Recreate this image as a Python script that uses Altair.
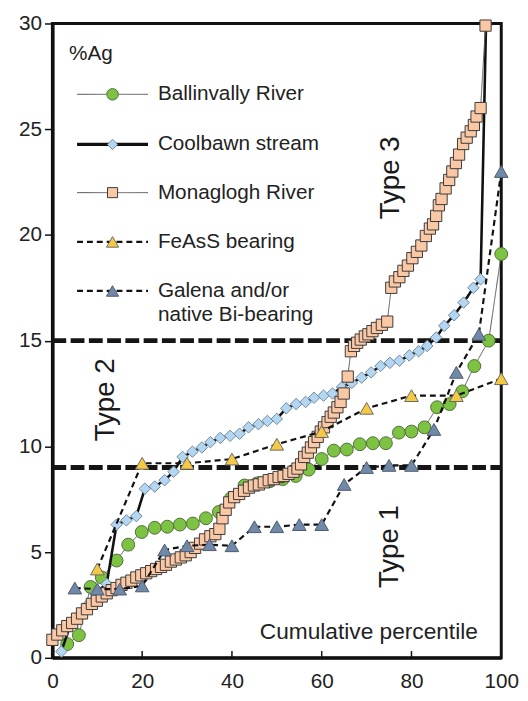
import altair as alt
import pandas as pd

# ---------------- data ----------------
ball_x = [3.3, 5.9, 8.5, 11.0, 14.3, 16.9, 19.9, 22.8, 25.6, 28.4, 31.3, 34.2, 37.1, 39.8,
          42.8, 45.6, 48.4, 51.3, 54.2, 57.1, 60.0, 62.7, 65.6, 68.5, 71.4, 74.3, 77.2, 80.0,
          82.9, 85.7, 88.5, 91.3, 94.0, 97.2, 100.0]
ball_y = [0.65, 1.07, 3.35, 3.8, 4.6, 5.35, 5.95, 6.15, 6.2, 6.3, 6.35, 6.6, 6.9, 7.55,
          8.15, 8.25, 8.35, 8.45, 8.6, 8.9, 9.4, 9.8, 9.85, 10.1, 10.15, 10.15, 10.65, 10.7,
          10.9, 11.85, 12.0, 12.6, 13.8, 15.0, 19.1]

cool_x = [2.0, 3.9, 5.9, 7.8, 9.7, 12.1, 14.3, 16.5, 18.7, 20.6, 22.8, 25.0, 27.0, 29.0,
          31.2, 33.3, 35.2, 37.4, 39.6, 41.7, 43.7, 45.9, 47.9, 50.0, 52.1, 54.3, 56.4, 58.3,
          60.4, 62.4, 64.5, 66.7, 68.9, 71.0, 73.1, 75.2, 77.3, 79.5, 81.6, 83.5, 85.5, 87.3,
          89.5, 91.6, 93.8, 95.4, 96.6]
cool_y = [0.3, 1.5, 2.0, 2.5, 3.1, 3.5, 6.3, 6.5, 6.7, 8.0, 8.1, 8.4, 8.8, 9.5,
          9.75, 9.95, 10.2, 10.4, 10.5, 10.6, 10.9, 11.05, 11.2, 11.3, 11.8, 12.0, 12.1, 12.3,
          12.4, 12.5, 12.8, 13.0, 13.25, 13.5, 13.8, 13.95, 14.05, 14.3, 14.5, 14.75, 15.15, 15.7,
          16.2, 16.8, 17.5, 17.9, 29.9]

mona_x = [0.0, 1.1, 2.2, 3.3, 4.4, 5.5, 6.6, 7.7, 8.8, 9.9, 11.0, 12.1, 13.2, 14.3, 15.4,
          16.5, 17.6, 18.7, 19.8, 20.9, 22.0, 23.1, 24.2, 25.3, 26.4, 27.5, 28.6, 29.7, 30.8,
          31.8, 32.9, 34.0, 35.2, 36.3, 37.2, 37.9, 38.6, 39.4, 40.5, 41.6, 42.7, 43.8, 44.9,
          46.0, 47.1, 48.2, 49.3, 50.4, 51.5, 52.6, 53.7, 54.6, 55.4, 56.1, 56.9, 57.6, 58.3,
          59.1, 59.8, 60.5, 61.3, 62.0, 62.7, 63.5, 64.2, 64.9, 65.8, 66.5, 67.2, 67.9, 68.7,
          69.6, 70.4, 71.3, 72.3, 73.4, 74.6, 75.5, 76.3, 77.3, 78.2, 79.2, 80.2, 81.2, 82.2,
          83.2, 84.1, 84.8, 85.5, 86.1, 86.7, 87.6, 88.4, 89.1, 89.9, 90.6, 91.5, 92.3, 93.2,
          93.9, 94.5, 95.4, 96.5]
mona_y = [0.85, 1.1, 1.3, 1.5, 1.65, 1.85, 2.1, 2.3, 2.55, 2.7, 2.9, 3.05, 3.2, 3.3, 3.45,
          3.55, 3.65, 3.8, 3.9, 4.0, 4.1, 4.2, 4.3, 4.4, 4.55, 4.65, 4.75, 4.85, 5.0,
          5.2, 5.4, 5.6, 5.75, 5.85, 6.1, 6.6, 7.0, 7.35, 7.6, 7.75, 7.9, 8.05, 8.15,
          8.2, 8.3, 8.4, 8.45, 8.55, 8.6, 8.7, 8.8, 8.95, 9.15, 9.5, 9.7, 9.95, 10.2,
          10.45, 10.7, 10.9, 11.15, 11.4, 11.6, 11.85, 12.1, 12.5, 13.3, 14.5, 14.75, 14.9, 15.05,
          15.2, 15.3, 15.45, 15.6, 15.75, 15.9, 17.5, 17.8, 18.0, 18.3, 18.55, 18.9, 19.2, 19.5,
          19.95, 20.3, 20.5, 20.9, 21.4, 21.7, 22.2, 22.6, 23.0, 23.4, 23.8, 24.3, 24.6, 24.9,
          25.2, 25.6, 26.0, 29.9]

feas_x = [10, 20, 30, 40, 50, 60, 70, 80, 90, 100]
feas_y = [4.2, 9.2, 9.2, 9.4, 10.1, 10.7, 11.8, 12.4, 12.4, 13.2]

gal_x = [5, 10, 15, 20, 25, 30, 35, 40, 45, 50, 55, 60, 65, 70, 75, 80, 85, 90, 95, 100]
gal_y = [3.3, 3.25, 3.25, 3.4, 5.1, 5.3, 5.35, 5.3, 6.2, 6.2, 6.3, 6.3, 8.2, 9.0, 9.1, 9.1,
         10.8, 13.5, 15.3, 23.0]

series_names = ["Ballinvally River", "Coolbawn stream", "Monaglogh River",
                "FeAsS bearing", "Galena and/or"]
legend_y = [26.65, 24.28, 22.0, 19.67, 17.35]
type_labels = ["Type 1", "Type 2", "Type 3"]
type_x = [75.2, 11.9, 75.4]
type_y = [5.26, 12.2, 22.7]
threshold_y = [9, 15]
x_ticks = [0, 20, 40, 60, 80, 100]
y_ticks = [0, 5, 10, 15, 20, 25, 30]

# ---------------- styles ----------------
styles = {
    "Ballinvally River": dict(shape="circle", size=170, fill="#7DC242", mstroke="#4f6f3a",
                              lcolor="#555555", lwidth=1.0, dash=[1, 0]),
    "Coolbawn stream": dict(shape="diamond", size=135, fill="#B5D6F0", mstroke="#6d8aa3",
                            lcolor="#111111", lwidth=2.6, dash=[1, 0]),
    "Monaglogh River": dict(shape="square", size=130, fill="#FBC8A6", mstroke="#3a3a3a",
                            lcolor="#555555", lwidth=1.0, dash=[1, 0]),
    "FeAsS bearing": dict(shape="triangle-up", size=190, fill="#F6C945", mstroke="#6a6a6a",
                          lcolor="#111111", lwidth=2.2, dash=[6, 4]),
    "Galena and/or": dict(shape="triangle-up", size=190, fill="#7189A8", mstroke="#4d5b6e",
                          lcolor="#111111", lwidth=2.2, dash=[6, 4]),
}
series_data = {
    "Ballinvally River": (ball_x, ball_y),
    "Coolbawn stream": (cool_x, cool_y),
    "Monaglogh River": (mona_x, mona_y),
    "FeAsS bearing": (feas_x, feas_y),
    "Galena and/or": (gal_x, gal_y),
}

FONT = "Liberation Sans"
XS = alt.Scale(domain=[0, 100], nice=False, zero=False)
YS = alt.Scale(domain=[0, 30], nice=False, zero=False)
XAX = alt.Axis(values=x_ticks, title=None, grid=False, tickSize=0, labelPadding=13,
               labelFontSize=21, labelFont=FONT, labelColor="#222", labelFlush=False,
               domainColor="#111", domainWidth=3)
YAX = alt.Axis(values=y_ticks, title=None, grid=False, tickSize=8, tickWidth=1.5,
               tickColor="#111", labelPadding=3, labelFontSize=21, labelFont=FONT,
               labelColor="#222", domainColor="#111", domainWidth=3.5)


def X(field="x"):
    return alt.X(f"{field}:Q", scale=XS, axis=XAX)


def Y(field="y"):
    return alt.Y(f"{field}:Q", scale=YS, axis=YAX)


layers = []

# threshold dashed lines
thr = pd.DataFrame({"y": threshold_y, "x": [0, 0], "x2": [100, 100]})
layers.append(alt.Chart(thr).mark_rule(color="#151515", strokeWidth=5, strokeDash=[14, 4.5])
              .encode(x=X(), x2="x2:Q", y=Y()))

# inward x ticks
tk = pd.DataFrame({"x": x_ticks[1:-1], "y": [0] * 4, "y2": [0.32] * 4})
layers.append(alt.Chart(tk).mark_rule(color="#111", strokeWidth=1.5)
              .encode(x=X(), y=Y(), y2="y2:Q"))

# series
for name in series_names:
    sx, sy = series_data[name]
    st = styles[name]
    df = pd.DataFrame({"x": sx, "y": sy})
    layers.append(alt.Chart(df).mark_line(color=st["lcolor"], strokeWidth=st["lwidth"],
                                          strokeDash=st["dash"])
                  .encode(x=X(), y=Y(), order="x:Q"))
    layers.append(alt.Chart(df).mark_point(shape=st["shape"], size=st["size"], filled=True,
                                           fill=st["fill"], stroke=st["mstroke"],
                                           strokeWidth=1, opacity=1)
                  .encode(x=X(), y=Y()))

# legend
for name, ly in zip(series_names, legend_y):
    st = styles[name]
    lw = st["lwidth"] + (0.8 if name == "Coolbawn stream" else 0)
    ld = pd.DataFrame({"x": [5.5], "x2": [21.3], "y": [ly], "xm": [13.4]})
    layers.append(alt.Chart(ld).mark_rule(color=st["lcolor"], strokeWidth=lw,
                                          strokeDash=st["dash"])
                  .encode(x=X(), x2="x2:Q", y=Y()))
    layers.append(alt.Chart(ld).mark_point(shape=st["shape"], size=st["size"] * 0.8,
                                           filled=True, fill=st["fill"], stroke=st["mstroke"],
                                           strokeWidth=1, opacity=1)
                  .encode(x=X("xm"), y=Y()))

leg_text = pd.DataFrame({"x": [23.5] * 6,
                         "y": legend_y + [16.23],
                         "t": series_names + ["native Bi-bearing"]})
layers.append(alt.Chart(leg_text).mark_text(align="left", baseline="middle", fontSize=21,
                                            font=FONT, color="#222")
              .encode(x=X(), y=Y(), text="t:N"))

pct = pd.DataFrame({"x": [3.7], "y": [28.56], "t": ["%Ag"]})
layers.append(alt.Chart(pct).mark_text(align="left", baseline="middle", fontSize=21,
                                       font=FONT, color="#222")
              .encode(x=X(), y=Y(), text="t:N"))
cum = pd.DataFrame({"x": [70.5], "y": [1.2], "t": ["Cumulative percentile"]})
layers.append(alt.Chart(cum).mark_text(align="center", baseline="middle", fontSize=23,
                                       font=FONT, color="#222")
              .encode(x=X(), y=Y(), text="t:N"))

types = pd.DataFrame({"x": type_x, "y": type_y, "t": type_labels})
layers.append(alt.Chart(types).mark_text(align="center", baseline="middle", angle=270,
                                         fontSize=28, font=FONT, color="#1a1a1a")
              .encode(x=X(), y=Y(), text="t:N"))

chart = alt.layer(*layers).properties(
    width=455, height=643,
    autosize=alt.AutoSizeParams(type="none"),
    padding={"left": 45, "top": 11, "right": 19, "bottom": 33},
).configure_view(stroke="#111", strokeWidth=3)

chart.save("out.html", embed_options={"renderer": "svg", "actions": False})
